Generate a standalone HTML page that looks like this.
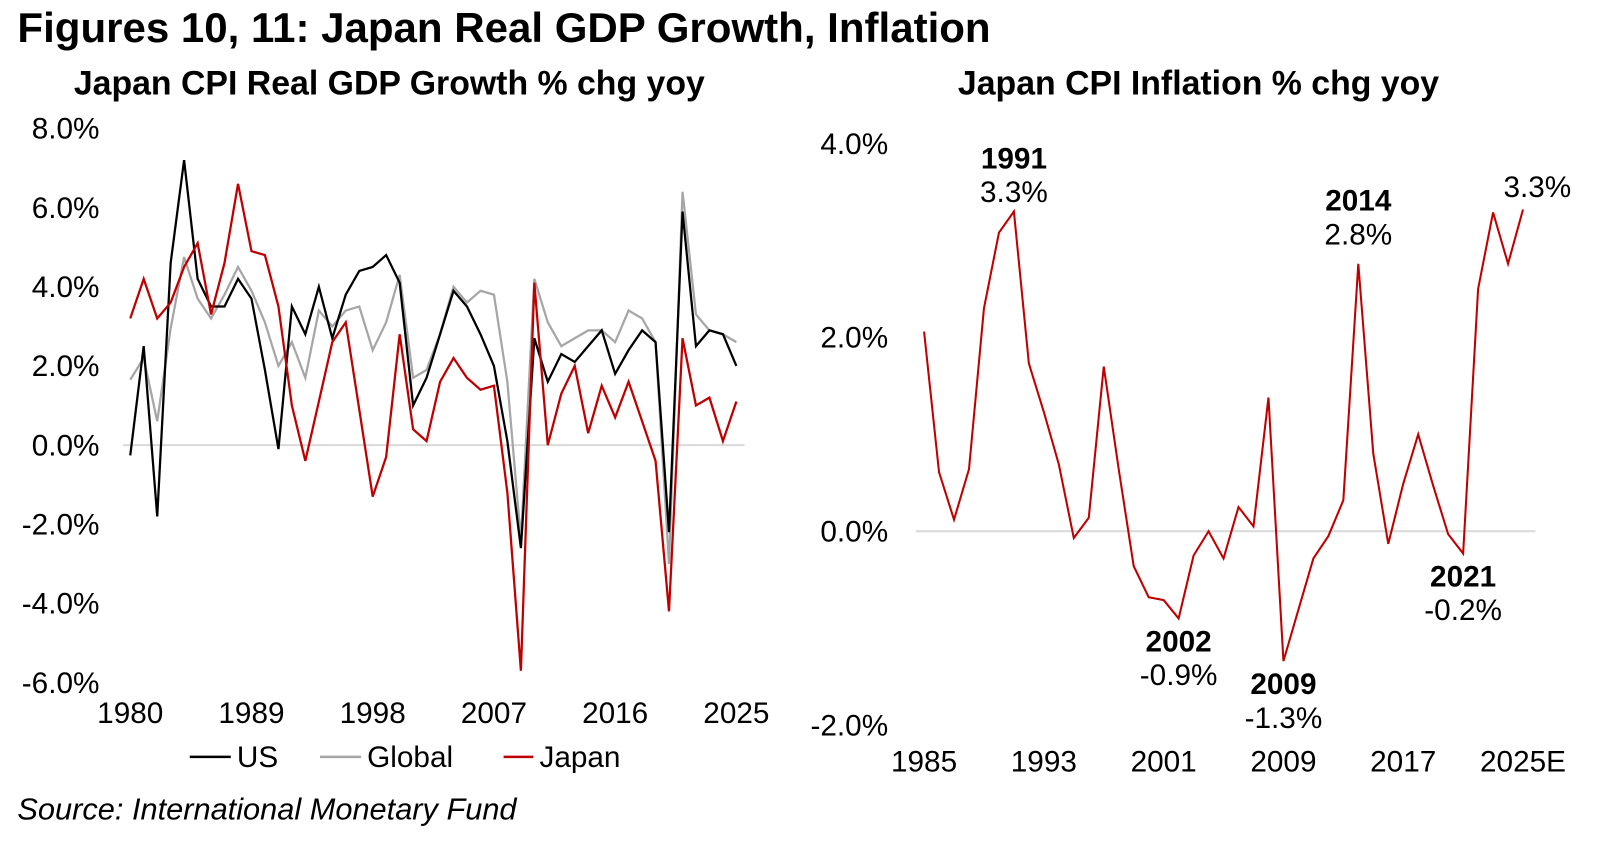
<!DOCTYPE html>
<html><head><meta charset="utf-8"><style>
body{margin:0;background:#fff;width:1600px;height:845px;overflow:hidden;font-family:"Liberation Sans",Arial,sans-serif}
</style></head><body>
<svg id="c" width="1600" height="845" xmlns="http://www.w3.org/2000/svg" font-family="Liberation Sans, Arial, sans-serif">
<g transform="scale(1.0256)">
<text x="17" y="41" font-size="41" font-weight="bold">Figures 10, 11: Japan Real GDP Growth, Inflation</text>
<text x="72" y="92" font-size="33" font-weight="bold">Japan CPI Real GDP Growth % chg yoy</text>
<text x="934" y="92" font-size="33" font-weight="bold">Japan CPI Inflation % chg yoy</text>
<text x="17" y="799" font-size="30" font-style="italic">Source: International Monetary Fund</text>
<g id="left"></g>
<g id="right"></g>
</g>
</svg>
<script>
const gdpStartYear = 1980;
const gdpUS = [-0.26,2.5,-1.8,4.6,7.2,4.2,3.5,3.5,4.2,3.7,1.9,-0.1,3.5,2.8,4.0,2.7,3.8,4.4,4.5,4.8,4.1,1.0,1.7,2.8,3.9,3.5,2.8,2.0,0.1,-2.6,2.7,1.6,2.3,2.1,2.5,2.9,1.8,2.4,2.9,2.6,-2.2,5.9,2.5,2.9,2.8,2.0];
const gdpGlobal = [1.65,2.2,0.6,2.95,4.75,3.7,3.2,3.8,4.5,3.9,3.1,2.0,2.6,1.7,3.4,3.0,3.4,3.5,2.4,3.1,4.3,1.7,1.9,2.8,4.0,3.6,3.9,3.8,1.6,-2.4,4.2,3.1,2.5,2.7,2.9,2.9,2.6,3.4,3.2,2.6,-3.0,6.4,3.3,2.9,2.8,2.6];
const gdpJapan = [3.2,4.2,3.2,3.6,4.5,5.1,3.3,4.6,6.6,4.9,4.8,3.5,1.0,-0.4,1.1,2.6,3.1,0.9,-1.3,-0.3,2.8,0.4,0.1,1.6,2.2,1.7,1.4,1.5,-1.2,-5.7,4.1,0.0,1.3,2.0,0.3,1.5,0.7,1.6,0.6,-0.4,-4.2,2.7,1.0,1.2,0.1,1.1];
const gdpYTicks = [8,6,4,2,0,-2,-4,-6];
const gdpXTicks = [1980,1989,1998,2007,2016,2025];
const cpiStartYear = 1985;
const cpiValues = [2.06,0.61,0.12,0.64,2.3,3.08,3.3,1.73,1.23,0.69,-0.07,0.14,1.7,0.64,-0.36,-0.68,-0.71,-0.9,-0.25,0.0,-0.28,0.25,0.05,1.38,-1.34,-0.81,-0.28,-0.05,0.32,2.76,0.8,-0.13,0.49,1.0,0.47,-0.03,-0.23,2.5,3.29,2.76,3.32];
const cpiYTicks = [4,2,0,-2];
const cpiXTicks = ["1985","1993","2001","2009","2017","2025E"];
const cpiAnnYears = [1991,2002,2009,2014,2021];

const NS="http://www.w3.org/2000/svg";
function mk(parent,tag,attrs,txt){const e=document.createElementNS(NS,tag);for(const k in attrs)e.setAttribute(k,attrs[k]);if(txt!==undefined)e.textContent=txt;parent.appendChild(e);return e;}

const TF=29;
// Left chart
const L=document.getElementById('left');
const lx=y=>127+(y-gdpStartYear)*(591/45);
const ly=v=>434-v*38.6;
let e=mk(L,'line',{x1:120,x2:726,y1:ly(0),y2:ly(0),stroke:'#d9d9d9','stroke-width':2});


gdpYTicks.forEach(t=>{
  const el=mk(L,'text',{x:97,y:ly(t)+10,'font-size':TF,'text-anchor':'end'},t.toFixed(1)+'%');
  
  
});
gdpXTicks.forEach(t=>{
  const el=mk(L,'text',{x:lx(t),y:705,'font-size':TF,'text-anchor':'middle'},String(t));
  
  
});
function series(arr,color,name,w){
  const pts=arr.map((v,i)=>lx(gdpStartYear+i).toFixed(1)+','+ly(v).toFixed(1)).join(' ');
  const el=mk(L,'polyline',{points:pts,fill:'none',stroke:color,'stroke-width':w,'stroke-linejoin':'miter'});
  
  
}
series(gdpGlobal,'#a6a6a6','global-gdp-line',2.2);
series(gdpUS,'#000000','us-gdp-line',2.2);
series(gdpJapan,'#c00000','japan-gdp-line',2.2);
[['US','#000',185,231],['Global','#a6a6a6',312,358],['Japan','#c00000',491,526]].forEach(d=>{
  const g=mk(L,'g',{});
  
  
  mk(g,'line',{x1:d[2],x2:d[3]-6,y1:738,y2:738,stroke:d[1],'stroke-width':2.5});
  mk(g,'text',{x:d[3],y:748,'font-size':TF},d[0]);
});

// Right chart
const R=document.getElementById('right');
const rx=y=>901+(y-cpiStartYear)*(584/40);
const ry=v=>518-v*94.5;
e=mk(R,'line',{x1:893,x2:1497,y1:ry(0),y2:ry(0),stroke:'#d9d9d9','stroke-width':2});


cpiYTicks.forEach(t=>{
  const el=mk(R,'text',{x:866,y:ry(t)+10,'font-size':TF,'text-anchor':'end'},t.toFixed(1)+'%');
  
  
});
cpiXTicks.forEach((t,i)=>{
  const el=mk(R,'text',{x:rx(1985+i*8),y:752,'font-size':TF,'text-anchor':'middle'},t);
  
  
});
const cpts=cpiValues.map((v,i)=>rx(cpiStartYear+i).toFixed(1)+','+ry(v).toFixed(1)).join(' ');
e=mk(R,'polyline',{points:cpts,fill:'none',stroke:'#c00000','stroke-width':2});


const annOff={1991:-42,2014:-52};
cpiAnnYears.forEach(y=>{
  const v=cpiValues[y-cpiStartYear];
  const above=v>1;
  const x=rx(y);
  const yb=ry(v)+(above?annOff[y]:32);
  const g=mk(R,'g',{});
  
  
  mk(g,'text',{x:x,y:yb,'font-size':TF,'font-weight':'bold','text-anchor':'middle'},String(y));
  mk(g,'text',{x:x,y:yb+33,'font-size':TF,'text-anchor':'middle'},v.toFixed(1)+'%');
});
const lastV=cpiValues[cpiValues.length-1];
e=mk(R,'text',{x:rx(cpiStartYear+cpiValues.length-1)+14,y:ry(lastV)-12,'font-size':TF,'text-anchor':'middle'},lastV.toFixed(1)+'%');


</script>
</body></html>
